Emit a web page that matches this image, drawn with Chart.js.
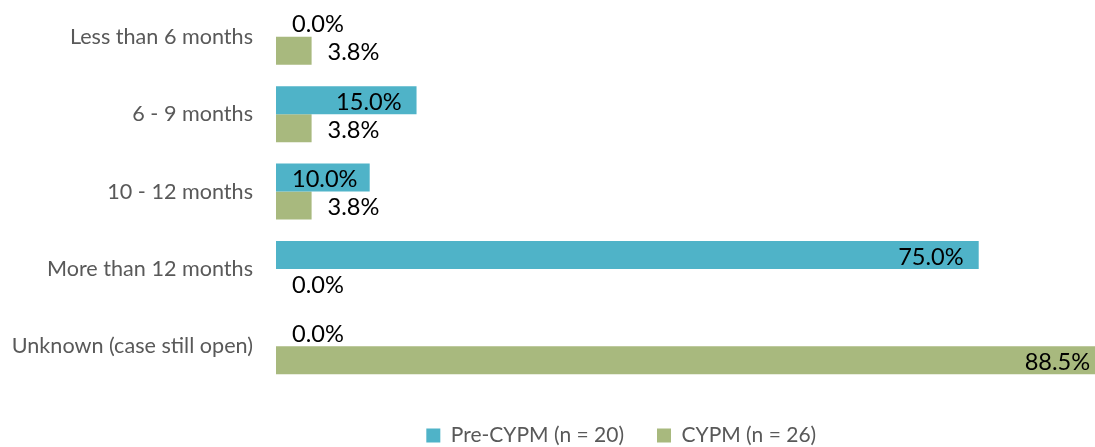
<!DOCTYPE html>
<html>
<head>
<meta charset="utf-8">
<script src="https://cdn.jsdelivr.net/npm/chart.js@4.4.1/dist/chart.umd.min.js"></script>
<style>
  html, body { margin: 0; padding: 0; background: #fff; overflow: hidden; }
  #wrap { position: absolute; left: 0; top: -2px; width: 1242px; height: 458px; }
</style>
</head>
<body>
<div id="wrap"><canvas id="chart"></canvas></div>
<script>
const categories = [
  "Less than 6 months",
  "6 - 9 months",
  "10 - 12 months",
  "More than 12 months",
  "Unknown (case still open)"
];
const preCypm = [0.0, 15.0, 10.0, 75.0, 0.0];
const cypm = [3.8, 3.8, 3.8, 0.0, 88.5];
const seriesNames = ["Pre-CYPM (n = 20)", "CYPM (n = 26)"];

const TEAL = "#4fb3c8";
const GREEN = "#a8b97e";
const GREY = "#595959";
const FONT = "Lato, 'Open Sans', sans-serif";

// value labels: small values sit after the bar, bigger ones inside its end
const valueLabels = {
  id: "valueLabels",
  afterDatasetsDraw(chart) {
    const ctx = chart.ctx;
    const xs = chart.scales.x;
    ctx.save();
    ctx.font = "23.6px " + FONT;
    ctx.fillStyle = "#000";
    ctx.textBaseline = "middle";
    chart.data.datasets.forEach((ds, di) => {
      const meta = chart.getDatasetMeta(di);
      meta.data.forEach((bar, i) => {
        const v = ds.data[i];
        const txt = v.toFixed(1) + "%";
        const end = xs.getPixelForValue(v);
        const y = bar.y + 2;
        if (v < 5) {
          ctx.textAlign = "left";
          ctx.fillText(txt, end + 16, y);
        } else {
          const w = ctx.measureText(txt).width;
          const right = Math.max(end - 15, xs.left + 16 + w);
          ctx.textAlign = "right";
          ctx.fillText(txt, right, y);
        }
      });
    });
    ctx.restore();
  }
};

new Chart(document.getElementById("chart"), {
  type: "bar",
  data: {
    labels: categories,
    datasets: [
      { label: seriesNames[0], data: preCypm, backgroundColor: TEAL },
      { label: seriesNames[1], data: cypm, backgroundColor: GREEN }
    ]
  },
  options: {
    indexAxis: "y",
    responsive: true,
    maintainAspectRatio: false,
    animation: false,
    categoryPercentage: 0.7226,
    barPercentage: 1,
    layout: { padding: { left: 8, right: 7.5, top: 0, bottom: 0 } },
    scales: {
      x: { display: false, min: 0, max: 102.3 },
      y: {
        grid: { display: false, drawTicks: true, tickLength: 23 },
        border: { display: false },
        // tiny lineHeight so the labels don't push the plot area down
        ticks: { color: GREY, font: { family: FONT, size: 21.6, lineHeight: 0.01 }, padding: 0 },
        afterFit(scale) { scale.width = 268; }
      }
    },
    plugins: {
      legend: {
        position: "bottom",
        title: { display: true, text: " ", padding: 0, font: { size: 7, lineHeight: 1 } },
        labels: {
          color: GREY,
          font: { family: FONT, size: 21 },
          boxWidth: 14,
          boxHeight: 14,
          padding: 33
        }
      },
      tooltip: { enabled: false }
    }
  },
  plugins: [valueLabels]
});
</script>
</body>
</html>
